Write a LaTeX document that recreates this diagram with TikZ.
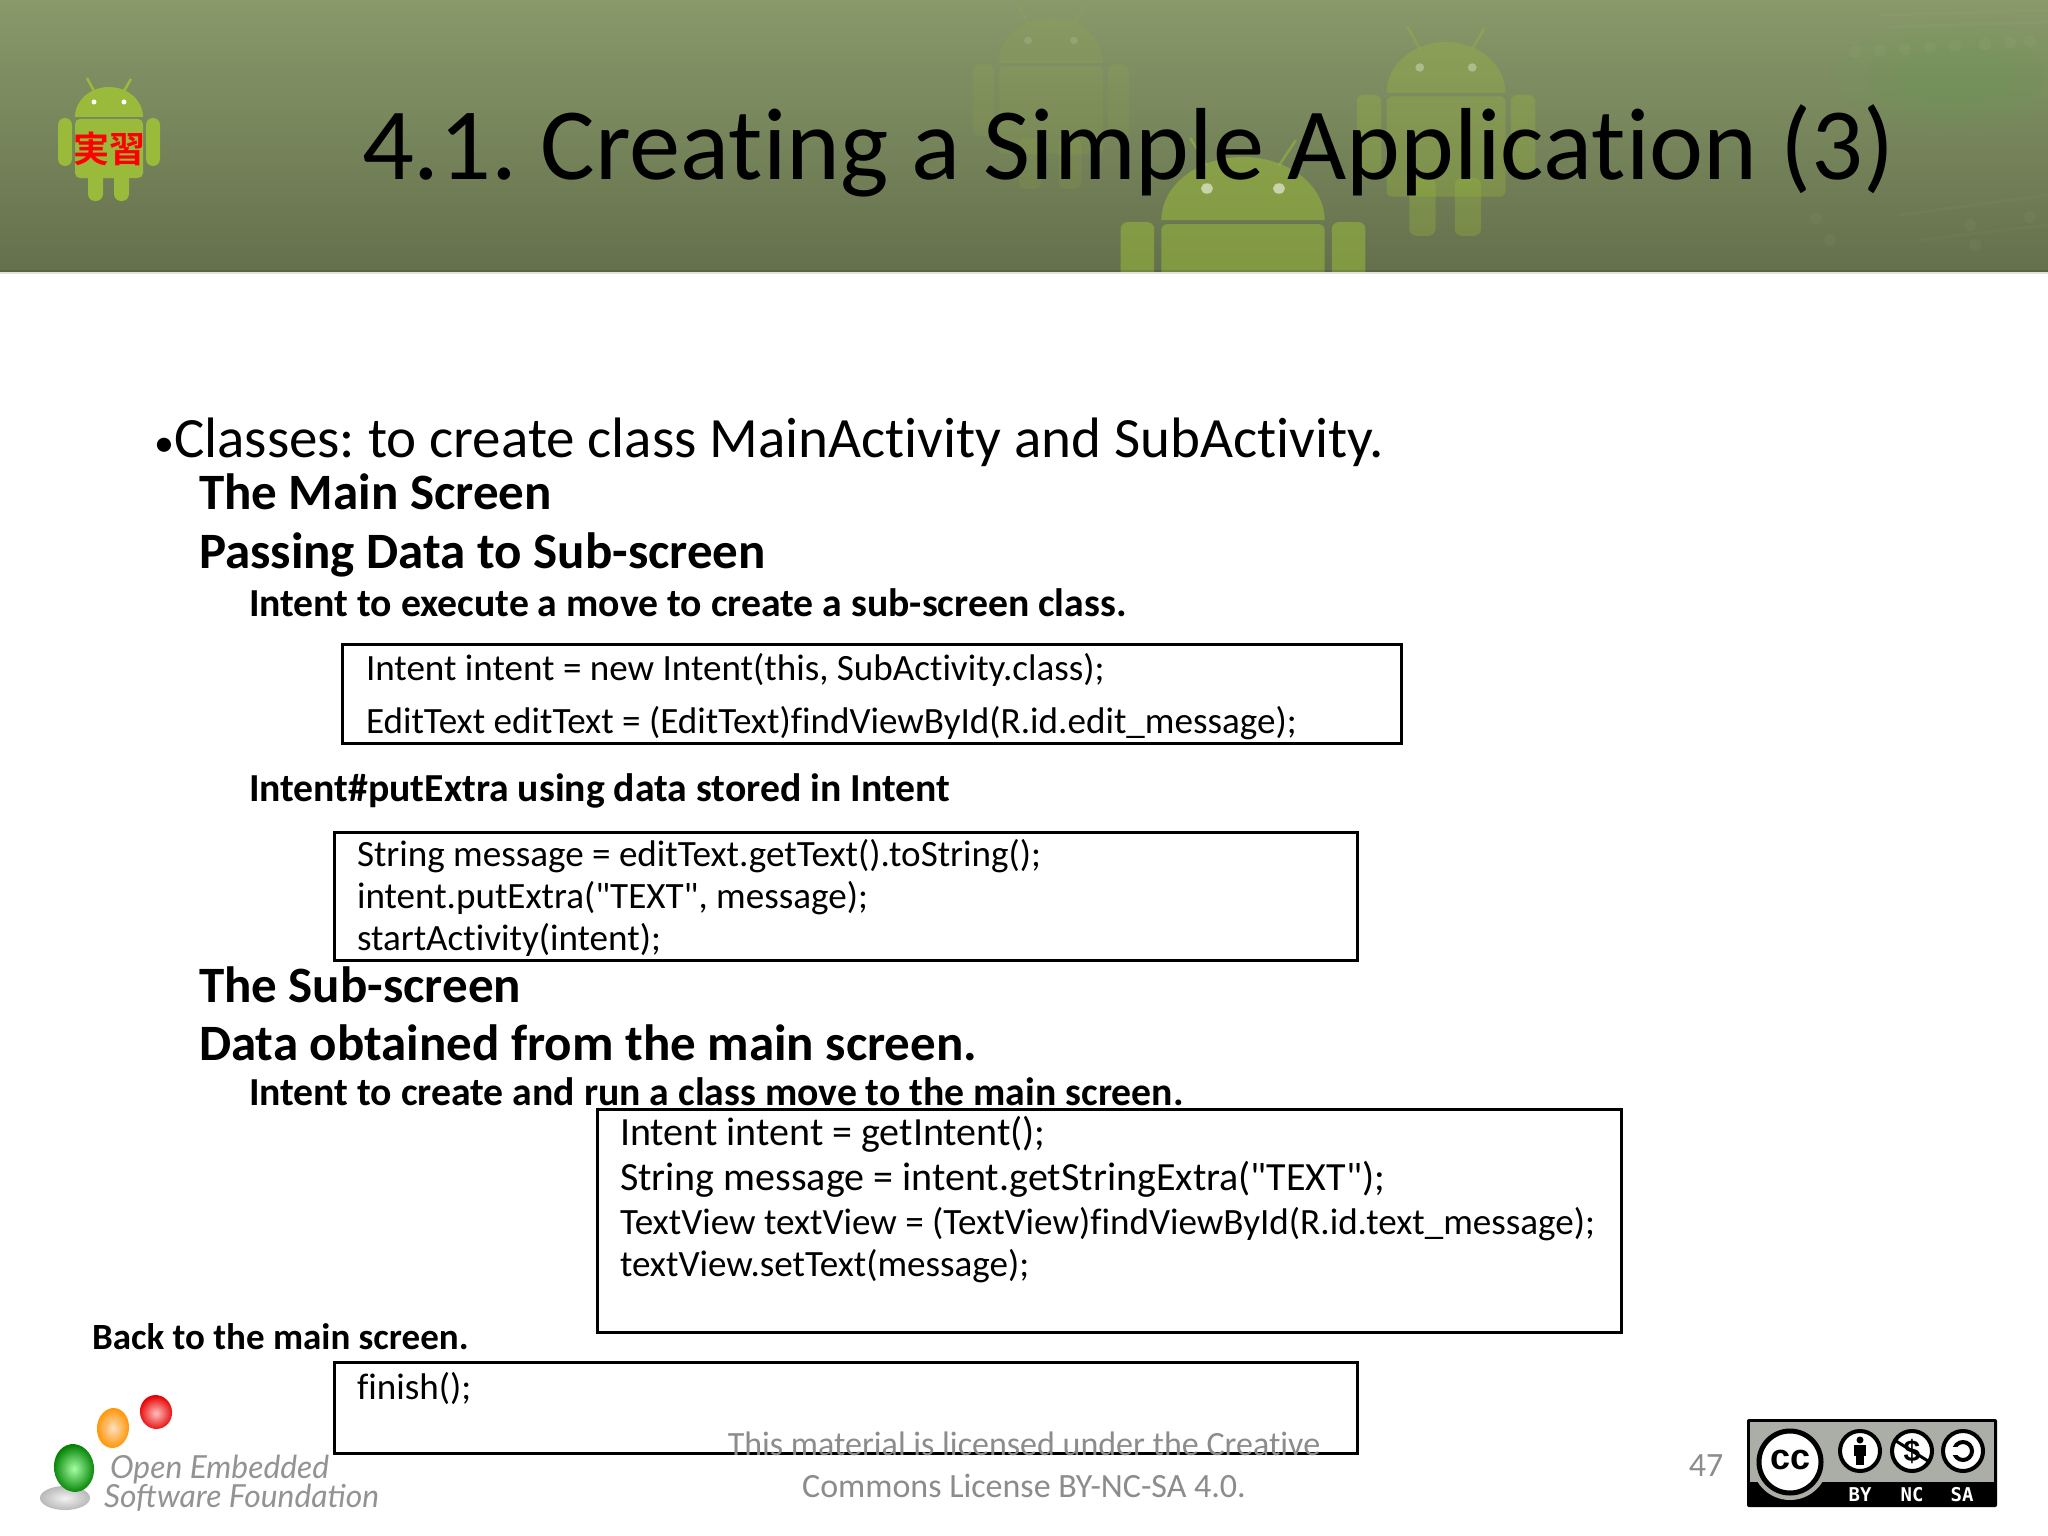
\documentclass[tikz,border=0pt]{standalone}
\usepackage{fontspec}
\setmainfont{Carlito}[Ligatures={TeXOff,NoCommon}]
\newfontfamily\jpfont{Noto Sans CJK JP Bold}
\newfontfamily\logofont{Lato}
\newfontfamily\ccfont{DejaVu Sans Mono}
\newfontfamily\ccbold{Liberation Sans}
\newcommand\fs[1]{\fontsize{#1}{#1}\selectfont}
\definecolor{droid}{RGB}{154,186,60}
\definecolor{hdtop}{RGB}{137,153,106}
\definecolor{hdmid}{RGB}{120,135,92}
\definecolor{hdbot}{RGB}{100,112,76}
\definecolor{footgray}{RGB}{140,140,140}
\definecolor{ccgray}{RGB}{170,174,166}
\tikzset{
  txt/.style={anchor=base west,inner sep=0pt,outer sep=0pt,black},
  lead/.style={txt,font=\fs{57}},
  headb/.style={txt,font=\fs{51}\bfseries},
  subb/.style={txt,font=\fs{39.7}\bfseries},
  code/.style={txt,font=\fs{37.1}},
  codeb/.style={txt,font=\fs{37.1}},
  codec/.style={txt,font=\fs{40}},
  codebox/.style={draw=black,line width=2.5pt,anchor=north west,inner sep=0pt,fill=none},
  foot/.style={anchor=base,inner sep=0pt,footgray,font=\fs{34}},
  ccring/.style={draw=black,line width=4pt,fill=white},
  cclabel/.style={anchor=center,inner sep=0pt,white,font=\ccfont\bfseries\fs{19}},
  circuit/.style={white,opacity=.025,line width=3pt},
  eggtext/.style={txt,font=\logofont\itshape\fs{31.8},gray!85},
}
% centre x, dome top y, x scale, y scale, opacity
\newcommand\droidshape[5]{%
  \begin{scope}[shift={(#1,#2)},xscale=#3,yscale=#4,opacity=#5]
    \draw[droid,line width=2.5pt] (-22,-9) -- (-15,4);
    \draw[droid,line width=2.5pt] (22,-8) -- (15,4);
    \fill[droid] (-34,30) arc[x radius=34,y radius=30,start angle=180,end angle=360] -- cycle;
    \fill[droid,rounded corners=5pt] (-34,32) rectangle (34,91);
    \fill[droid,rounded corners=7pt] (-51,31) rectangle (-37,79);
    \fill[droid,rounded corners=7pt] (37,31) rectangle (51,79);
    \fill[droid,rounded corners=7pt] (-21,80) rectangle (-6,114);
    \fill[droid,rounded corners=7pt] (5,80) rectangle (20,114);
    \fill[white] (-15,15) circle (2.5);
    \fill[white] (15,15) circle (2.5);
  \end{scope}}
\begin{document}
\begin{tikzpicture}[x=1pt,y=-1pt]
\frenchspacing
\useasboundingbox (0,0) rectangle (2048,1536);
\fill[white] (0,0) rectangle (2048,1536);
% header band
\shade[top color=hdtop,middle color=hdmid,bottom color=hdbot] (0,0) rectangle (2048,272);
\begin{scope}
  \clip (0,0) rectangle (2048,272);
  % faint circuit-board texture at the right
  \foreach \rr/\ss in {120/55,90/42,60/28}
    \fill[green!50!gray,opacity=.04] (1955,75) ellipse [x radius=\rr,y radius=\ss];
  \foreach \px in {1855,1880,1905,1930,1955,1985,2010,2030}
    \fill[white,opacity=.035] (\px,{52-(\px-1855)*.06}) circle (6);
  \draw[circuit] (1880,15) -- (2048,10);
  \draw[circuit] (1890,27) -- (2048,22);
  \draw[circuit] (1900,215) -- (2048,195);
  \draw[circuit] (1920,240) -- (2048,225);
  \foreach \px/\py in {1816/218,1970/225,2030/217,1975/245,1830/240}
    \fill[white,opacity=.035] (\px,\py) circle (6);
  \droidshape{1051}{18}{1.53}{1.5}{.12}
  \droidshape{1446}{42}{1.75}{1.7}{.32}
  \droidshape{1243}{157}{2.4}{2.1}{.55}
  \fill[black,opacity=.1] (0,270) rectangle (2048,272);
\end{scope}
\fill[white!80!hdbot] (0,272) rectangle (2048,273.5);
% small android
\droidshape{109}{87}{1}{1}{1}
\node[anchor=center,inner sep=0pt,red,font=\jpfont\fs{36}] (badge) at (109,149) {実習};
% title
\node[txt,font=\fs{102.4}] (title) at (362,179) {4.1. Creating a Simple Application (3)};
% body
\node[txt,font=\fs{40}] (bullet) at (154,456) {•};
\node[lead] (classes) at (174,457) {Classes: to create class MainActivity and SubActivity.};
\node[headb] (mainh) at (199,509) {The Main Screen};
\node[headb] (passh) at (199,568) {Passing Data to Sub-screen};
\node[subb] (intent1) at (249,616) {Intent to execute a move to create a sub-screen class.};
\node[codebox,minimum width=1059pt,minimum height=99pt] (box1) at (341,643) {};
\node[code] (b1a) at (366,680) {Intent intent = new Intent(this, SubActivity.class);};
\node[code] (b1b) at (366,733) {EditText editText = (EditText)findViewById(R.id.edit\_message);};
\node[subb] (intent2) at (249,801) {Intent\#putExtra using data stored in Intent};
\node[codebox,minimum width=1023pt,minimum height=128pt] (box2) at (333,831) {};
\node[code] (b2a) at (357,866) {String message = editText.getText().toString();};
\node[code] (b2b) at (357,908) {intent.putExtra("TEXT", message);};
\node[code] (b2c) at (357,950) {startActivity(intent);};
\node[headb] (subh) at (199,1002) {The Sub-screen};
\node[headb] (datah) at (199,1060) {Data obtained from the main screen.};
\node[subb] (intent3) at (249,1105) {Intent to create and run a class move to the main screen.};
\node[codebox,minimum width=1024pt,minimum height=223pt] (box3) at (596,1108) {};
\node[codec] (b3a) at (620,1145) {Intent intent = getIntent();};
\node[codec] (b3b) at (620,1190) {String message = intent.getStringExtra("TEXT");};
\node[codeb] (b3c) at (620,1234) {TextView textView = (TextView)findViewById(R.id.text\_message);};
\node[codeb] (b3d) at (620,1276) {textView.setText(message);};
\node[txt,font=\fs{37}\bfseries] (back) at (92,1349) {Back to the main screen.};
\node[codebox,minimum width=1023pt,minimum height=91pt] (box4) at (333,1361) {};
\node[code] (b4a) at (357,1399) {finish();};
% footer
\node[foot] (lic1) at (1024,1455) {This material is licensed under the Creative};
\node[foot] (lic2) at (1024,1497) {Commons License BY-NC-SA 4.0.};
\node[foot] (page) at (1706,1476) {47};
% OESF logo
\shade[inner color=gray!10,outer color=gray!55] (65,1498) ellipse [x radius=25,y radius=12];
\shade[inner color=green!35!white,outer color=green!50!black,rotate around={8:(74,1468)}] (74,1468) ellipse [x radius=20,y radius=24];
\shade[inner color=orange!25!white,outer color=orange!85!yellow,rotate around={-5:(113,1428)}] (113,1428) ellipse [x radius=16,y radius=20];
\shade[inner color=red!25!white,outer color=red!90!black,rotate around={15:(156,1412)}] (156,1412) ellipse [x radius=16,y radius=17];
\node[eggtext] (oe1) at (110,1478) {Open Embedded};
\node[eggtext] (oe2) at (104,1507) {Software Foundation};
% CC badge
\fill[black,rounded corners=2pt] (1747,1419) rectangle (1997,1507);
\fill[ccgray] (1750,1422) rectangle (1994,1482);
\fill[ccgray] (1790,1462) circle (38);
\draw[ccring,line width=5pt] (1790,1462) circle (31);
\node[anchor=center,inner sep=0pt,font=\ccbold\bfseries\fs{36}] (cc) at (1790,1460) {cc};
\draw[ccring] (1860,1451) circle (20);
\draw[ccring] (1912,1451) circle (20);
\draw[ccring] (1963,1451) circle (20);
\fill (1860,1440) circle (3.5);
\fill (1854,1445) rectangle (1866,1456);
\fill (1856,1456) rectangle (1864,1465);
\node[anchor=center,inner sep=0pt,font=\ccbold\bfseries\fs{30}] (dollar) at (1912,1451) {\$};
\draw[line width=3pt] (1896,1441) -- (1928,1461);
\draw[line width=4pt] (1963,1451) circle (9);
\fill[white] (1952,1447) rectangle (1958,1455);
\node[cclabel] (by) at (1860,1495) {BY};
\node[cclabel] (nc) at (1912,1495) {NC};
\node[cclabel] (sa) at (1962,1495) {SA};
\end{tikzpicture}
\end{document}
